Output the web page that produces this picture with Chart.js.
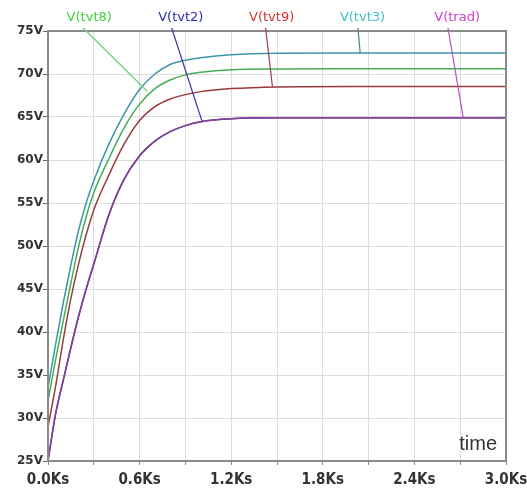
<!DOCTYPE html>
<html>
<head>
<meta charset="utf-8">
<script src="https://cdn.jsdelivr.net/npm/chart.js@4/dist/chart.umd.min.js"></script>
<style>
  html, body { margin: 0; padding: 0; background: #fff; }
  #c { display: block; }
</style>
</head>
<body>
<canvas id="c" width="527" height="491"></canvas>
<script>
// time in Ks, voltages
const times = [0, 0.05, 0.1, 0.15, 0.2, 0.25, 0.3, 0.4, 0.5, 0.6, 0.7, 0.8, 0.9, 1.0, 1.2, 1.5, 2.0, 3.0];
const vTvt3 = [33.5, 38.6, 43.4, 47.8, 51.8, 55.0, 57.6, 61.9, 65.4, 68.2, 70.0, 71.1, 71.6, 71.9, 72.25, 72.42, 72.45, 72.45];
const vTvt8 = [32.0, 36.8, 41.3, 45.7, 49.9, 53.4, 56.2, 60.2, 63.8, 66.5, 68.3, 69.3, 69.9, 70.2, 70.5, 70.58, 70.6, 70.6];
const vTvt9 = [29.0, 33.7, 39.1, 43.9, 47.9, 51.3, 54.2, 58.3, 61.9, 64.6, 66.2, 67.1, 67.6, 67.95, 68.3, 68.5, 68.55, 68.55];
const vTvt2 = [25.0, 30.5, 34.4, 38.2, 41.8, 45.0, 47.9, 53.7, 57.8, 60.5, 62.2, 63.3, 64.0, 64.45, 64.8, 64.9, 64.9, 64.9];
const vTrad = [25.0, 30.5, 34.4, 38.2, 41.8, 45.0, 47.9, 53.7, 57.8, 60.5, 62.2, 63.3, 64.0, 64.45, 64.8, 64.9, 64.9, 64.9];

const xTickValues = [0, 0.3, 0.6, 0.9, 1.2, 1.5, 1.8, 2.1, 2.4, 2.7, 3.0];
const xTickLabels = ['0.0Ks', '', '0.6Ks', '', '1.2Ks', '', '1.8Ks', '', '2.4Ks', '', '3.0Ks'];

// trace labels along the top and where their pointer lines land (Ks, V)
const traceNames = ['V(tvt8)', 'V(tvt2)', 'V(tvt9)', 'V(tvt3)', 'V(trad)'];
const labelAt = [0.27, 0.87, 1.465, 2.06, 2.68];
const pointerFrom = [0.23, 0.81, 1.425, 2.03, 2.62];
const pointerToX = [0.65, 1.01, 1.47, 2.045, 2.72];
const pointerToV = [68.0, 64.45, 68.55, 72.45, 64.9];

const labelColors = ['#3ed23e', '#2a2ab4', '#d83030', '#3cc4c4', '#d23cd2'];
const pointerColors = ['#6ad07a', '#3a3aa6', '#a03a4a', '#4a8088', '#b84ec6'];

const narrow = "'Liberation Sans Narrow', 'DejaVu Sans Condensed', Arial, sans-serif";

function pts(vals) {
  return times.map((t, i) => ({ x: t, y: vals[i] }));
}

function line(label, vals, color) {
  return {
    label: label,
    data: pts(vals),
    borderColor: color,
    borderWidth: 1.5,
    pointRadius: 0,
    fill: false,
    cubicInterpolationMode: 'monotone'
  };
}

const frame = {
  id: 'frame',
  afterDatasetsDraw(chart) {
    const { ctx, chartArea: a } = chart;
    ctx.save();
    ctx.strokeStyle = '#8a8a8a';
    ctx.lineWidth = 2;
    ctx.strokeRect(a.left, a.top, a.right - a.left, a.bottom - a.top);
    ctx.restore();
  },
  afterDraw(chart) {
    const { ctx, chartArea: a, scales: { x, y } } = chart;
    ctx.save();
    ctx.font = "13px 'DejaVu Sans', sans-serif";
    ctx.textAlign = 'center';
    ctx.textBaseline = 'middle';
    traceNames.forEach((name, i) => {
      ctx.fillStyle = labelColors[i];
      ctx.fillText(name, x.getPixelForValue(labelAt[i]), a.top - 13);
      ctx.strokeStyle = pointerColors[i];
      ctx.lineWidth = 1.2;
      ctx.beginPath();
      ctx.moveTo(x.getPixelForValue(pointerFrom[i]), a.top - 3);
      ctx.lineTo(x.getPixelForValue(pointerToX[i]), y.getPixelForValue(pointerToV[i]));
      ctx.stroke();
    });
    ctx.font = "20px 'Liberation Sans', Arial, sans-serif";
    ctx.fillStyle = '#333';
    ctx.textAlign = 'right';
    ctx.textBaseline = 'alphabetic';
    ctx.fillText('time', a.right - 9, a.bottom - 11);
    ctx.restore();
  }
};

new Chart(document.getElementById('c').getContext('2d'), {
  type: 'line',
  data: {
    datasets: [
      line('V(trad)', vTrad, '#8a3c92'),
      line('V(tvt2)', vTvt2, '#3a40a0'),
      line('V(tvt9)', vTvt9, '#9a3a3e'),
      line('V(tvt8)', vTvt8, '#45ad58'),
      line('V(tvt3)', vTvt3, '#3d97a6')
    ]
  },
  options: {
    responsive: false,
    animation: false,
    devicePixelRatio: 1,
    layout: { padding: { top: 31, right: 21, left: 0, bottom: 0 } },
    plugins: { legend: { display: false }, tooltip: { enabled: false } },
    scales: {
      x: {
        type: 'linear',
        min: 0,
        max: 3,
        afterBuildTicks: s => { s.ticks = xTickValues.map(v => ({ value: v })); },
        afterFit: s => { s.height = 30; s.paddingLeft = 0; s.paddingRight = 0; },
        grid: { color: '#dcdcdc', tickColor: '#8a8a8a', tickLength: 4 },
        border: { color: '#8a8a8a', width: 2 },
        ticks: {
          autoSkip: false,
          maxRotation: 0,
          padding: 6,
          color: '#333',
          font: { family: narrow, size: 15, weight: 'bold' },
          callback: (v, i) => xTickLabels[i]
        }
      },
      y: {
        min: 25,
        max: 75,
        afterFit: s => { s.width = 48; s.paddingTop = 0; s.paddingBottom = 0; },
        grid: { color: '#dcdcdc', tickColor: '#666', tickLength: 5 },
        border: { color: '#8a8a8a', width: 2 },
        ticks: {
          stepSize: 5,
          padding: 0,
          color: '#333',
          font: { family: "'DejaVu Sans', sans-serif", size: 12, weight: 'bold' },
          callback: v => v + 'V'
        }
      }
    }
  },
  plugins: [frame]
});
</script>
</body>
</html>
